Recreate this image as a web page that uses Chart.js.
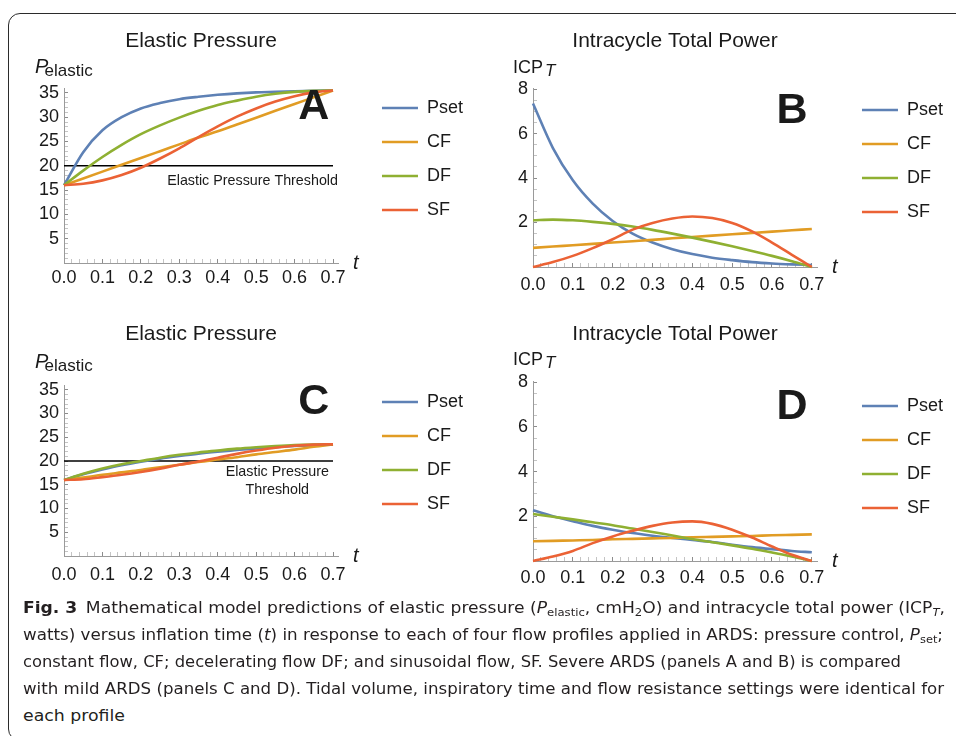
<!DOCTYPE html>
<html>
<head>
<meta charset="utf-8">
<script src="https://cdn.jsdelivr.net/npm/chart.js@4.4.1/dist/chart.umd.min.js"></script>
<style>
  body { margin: 0; width: 956px; height: 736px; background: #fff; position: relative; overflow: hidden; }
  .frame { position: absolute; left: 8px; top: 13px; width: 1000px; height: 726px; border: 1px solid #2b2b2b; border-radius: 12px; }
  .panel { position: absolute; }
  #caption { position: absolute; left: 23px; top: 594px; font-family: "Liberation Sans Narrow", "DejaVu Sans Condensed", "Liberation Sans", sans-serif; font-size: 16.5px; color: #231f20; }
  #caption .row { position: absolute; left: 0; height: 27px; line-height: 27px; white-space: nowrap; }
  #caption .row span.fit { display: inline-block; transform-origin: 0 50%; }
  #caption sub { font-size: 68%; line-height: 0; vertical-align: -0.3em; }
</style>
</head>
<body>
<div class="frame"></div>
<canvas id="chartA" class="panel" width="473" height="278" style="left:0px;top:20px"></canvas>
<canvas id="chartB" class="panel" width="473" height="278" style="left:480px;top:22px"></canvas>
<canvas id="chartC" class="panel" width="473" height="278" style="left:0px;top:314px"></canvas>
<canvas id="chartD" class="panel" width="473" height="278" style="left:480px;top:318px"></canvas>

<div id="caption">
  <div class="row" style="top:0px"><span class="fit" data-w="922"><b>Fig. 3</b>&ensp;Mathematical model predictions of elastic pressure (<i>P</i><sub>elastic</sub>, cmH<sub>2</sub>O) and intracycle total power (ICP<sub><i>T</i></sub>,</span></div>
  <div class="row" style="top:27px"><span class="fit" data-w="920">watts) versus inflation time (<i>t</i>) in response to each of four flow profiles applied in ARDS: pressure control, <i>P</i><sub>set</sub>;</span></div>
  <div class="row" style="top:54px"><span class="fit" data-w="878">constant flow, CF; decelerating flow DF; and sinusoidal flow, SF. Severe ARDS (panels A and B) is compared</span></div>
  <div class="row" style="top:81px"><span class="fit" data-w="921">with mild ARDS (panels C and D). Tidal volume, inspiratory time and flow resistance settings were identical for</span></div>
  <div class="row" style="top:108px"><span class="fit" data-w="102">each profile</span></div>
</div>

<script>
// inflation time t (s), shared by every curve
const tGrid = [0, 0.05, 0.1, 0.15, 0.2, 0.25, 0.3, 0.35, 0.4, 0.45, 0.5, 0.55, 0.6, 0.65, 0.7];

const seriesNames = ['Pset', 'CF', 'DF', 'SF'];
const seriesColors = ['#5e81b5', '#e19c24', '#8fb032', '#eb6235'];

// A - severe ARDS, elastic pressure
const psetA = [16, 22.8, 27.3, 30.0, 31.8, 32.9, 33.7, 34.2, 34.6, 34.9, 35.1, 35.2, 35.3, 35.4, 35.5];
const cfA   = [16, 17.4, 18.8, 20.2, 21.6, 23.0, 24.4, 25.8, 27.1, 28.5, 29.9, 31.3, 32.7, 34.1, 35.5];
const dfA   = [16, 19.0, 21.8, 24.3, 26.5, 28.3, 29.9, 31.3, 32.5, 33.4, 34.2, 34.8, 35.2, 35.4, 35.5];
const sfA   = [16, 16.3, 17.0, 18.1, 19.6, 21.5, 23.6, 25.9, 28.1, 30.1, 31.8, 33.2, 34.3, 35.1, 35.5];

// B - severe ARDS, intracycle total power
const psetB = [7.35, 5.35, 3.9, 2.85, 2.07, 1.5, 1.1, 0.8, 0.58, 0.42, 0.31, 0.22, 0.16, 0.12, 0.09];
const cfB   = [0.86, 0.92, 0.98, 1.04, 1.10, 1.16, 1.22, 1.29, 1.35, 1.41, 1.47, 1.53, 1.59, 1.65, 1.71];
const dfB   = [2.1, 2.13, 2.1, 2.03, 1.94, 1.82, 1.67, 1.5, 1.32, 1.13, 0.93, 0.72, 0.5, 0.26, 0];
const sfB   = [0, 0.22, 0.5, 0.85, 1.25, 1.68, 1.98, 2.18, 2.27, 2.2, 1.98, 1.6, 1.1, 0.55, 0];

// C - mild ARDS, elastic pressure
const psetC = [16, 17.2, 18.2, 19.1, 19.85, 20.5, 21.05, 21.55, 21.95, 22.3, 22.65, 22.9, 23.15, 23.35, 23.5];
const cfC   = [16, 16.5, 17.1, 17.6, 18.1, 18.7, 19.2, 19.8, 20.3, 20.8, 21.4, 21.9, 22.4, 23.0, 23.5];
const dfC   = [16, 17.3, 18.4, 19.3, 20.0, 20.7, 21.3, 21.8, 22.2, 22.6, 22.9, 23.15, 23.35, 23.45, 23.5];
const sfC   = [16, 16.15, 16.6, 17.1, 17.7, 18.4, 19.2, 19.9, 20.7, 21.5, 22.2, 22.8, 23.2, 23.45, 23.5];

// D - mild ARDS, intracycle total power
const psetD = [2.27, 2.0, 1.78, 1.57, 1.4, 1.25, 1.13, 1.03, 0.94, 0.85, 0.73, 0.62, 0.53, 0.45, 0.39];
const cfD   = [0.88, 0.9, 0.92, 0.94, 0.97, 0.99, 1.01, 1.03, 1.06, 1.08, 1.1, 1.12, 1.15, 1.17, 1.19];
const dfD   = [2.1, 1.98, 1.86, 1.73, 1.6, 1.45, 1.3, 1.14, 0.98, 0.84, 0.7, 0.55, 0.38, 0.2, 0];
const sfD   = [0, 0.2, 0.45, 0.8, 1.1, 1.35, 1.57, 1.72, 1.77, 1.66, 1.4, 1.05, 0.65, 0.28, 0];

// elastic pressure threshold
const thresholdT = [0, 0.7];
const thresholdP = [20, 20];
const thresholdTextA = ['Elastic Pressure Threshold'];
const thresholdTextC = ['Elastic Pressure', 'Threshold'];

// ticks
const xTickValues = [0, 0.1, 0.2, 0.3, 0.4, 0.5, 0.6, 0.7];
const xTickLabels = ['0.0', '0.1', '0.2', '0.3', '0.4', '0.5', '0.6', '0.7'];
const pTickValues = [5, 10, 15, 20, 25, 30, 35];
const pTickLabels = ['5', '10', '15', '20', '25', '30', '35'];
const icpTickValues = [2, 4, 6, 8];
const icpTickLabels = ['2', '4', '6', '8'];

const FONT = '"Liberation Sans", Arial, sans-serif';
const INK = '#1a1a1a';
const W = 473;

Chart.defaults.font.family = FONT;
Chart.defaults.color = INK;

function makeTicks(lo, hi, step, majors) {
  const out = [];
  const n = Math.round((hi - lo) / step);
  for (let i = 0; i <= n; i++) {
    const v = +(lo + i * step).toFixed(4);
    out.push({ value: v, major: majors.some(m => Math.abs(m - v) < 1e-6) });
  }
  return out;
}

function labelFor(values, labels) {
  return v => {
    const k = values.findIndex(m => Math.abs(m - v) < 1e-6);
    return k < 0 ? '' : labels[k];
  };
}

// draws axis names, panel letter and threshold note
const panelText = {
  id: 'panelText',
  afterDraw(chart, args, o) {
    const { ctx, chartArea: a, scales: { x, y } } = chart;
    ctx.save();
    ctx.fillStyle = INK;
    ctx.textAlign = 'left';
    ctx.textBaseline = 'alphabetic';
    const by = a.top + o.ylabDy;
    if (o.ylab === 'P') {
      ctx.font = 'italic 20px ' + FONT;
      ctx.fillText('P', a.left - 29, by);
      ctx.font = '17px ' + FONT;
      ctx.fillText('elastic', a.left - 19.5, by + 2.5);
    } else {
      ctx.font = '18px ' + FONT;
      ctx.fillText('ICP', a.left - 20, by);
      ctx.font = 'italic 17px ' + FONT;
      ctx.fillText('T', a.left + 12, by + 2.5);
    }
    ctx.font = 'italic 20px ' + FONT;
    ctx.fillText('t', a.right + 15, a.bottom + 6);

    ctx.font = 'bold 43px ' + FONT;
    ctx.textAlign = 'center';
    ctx.textBaseline = 'middle';
    ctx.fillText(o.letter, x.getPixelForValue(0.65), y.getPixelForValue(o.letterY));

    if (o.note) {
      ctx.font = '14.3px ' + FONT;
      const y20 = y.getPixelForValue(thresholdP[0]);
      if (o.note.length === 1) {
        ctx.textAlign = 'right';
        ctx.fillText(o.note[0], a.right, y20 + 15);
      } else {
        ctx.textAlign = 'center';
        const cx = x.getPixelForValue(0.555);
        o.note.forEach((line, i) => ctx.fillText(line, cx, y20 + 11.5 + i * 18));
      }
    }
    ctx.restore();
  }
};

const panels = [
  { id: 'chartA', title: 'Elastic Pressure', series: [psetA, cfA, dfA, sfA], threshold: true, note: thresholdTextA,
    yMax: 36, yStep: 1, yTop: 35, yVals: pTickValues, yLabs: pTickLabels, ylab: 'P', letter: 'A', letterY: 32.0,
    yWidth: 64, xHeight: 35, plotRight: 338, titlePad: { top: 8.4, bottom: 34.4 }, xPad: 8.7, ylabDy: -14.7 },
  { id: 'chartB', title: 'Intracycle Total Power', series: [psetB, cfB, dfB, sfB], threshold: false, note: null,
    yMax: 8.05, yStep: 0.5, yTop: 8, yVals: icpTickValues, yLabs: icpTickLabels, ylab: 'ICP', letter: 'B', letterY: 7.0,
    yWidth: 53, xHeight: 33, plotRight: 337, titlePad: { top: 6.4, bottom: 34.4 }, xPad: 11.5, ylabDy: -14.7 },
  { id: 'chartC', title: 'Elastic Pressure', series: [psetC, cfC, dfC, sfC], threshold: true, note: thresholdTextC,
    yMax: 36, yStep: 1, yTop: 35, yVals: pTickValues, yLabs: pTickLabels, ylab: 'P', letter: 'C', letterY: 32.3,
    yWidth: 64, xHeight: 36, plotRight: 338, titlePad: { top: 7.6, bottom: 38.2 }, xPad: 12.5, ylabDy: -17 },
  { id: 'chartD', title: 'Intracycle Total Power', series: [psetD, cfD, dfD, sfD], threshold: false, note: null,
    yMax: 8.05, yStep: 0.5, yTop: 8, yVals: icpTickValues, yLabs: icpTickLabels, ylab: 'ICP', letter: 'D', letterY: 6.87,
    yWidth: 53, xHeight: 35, plotRight: 337, titlePad: { top: 3.4, bottom: 34.4 }, xPad: 10.2, ylabDy: -16 }
];

const tickColor = c => (c.tick && c.tick.major ? '#8c8c8c' : '#c4c4c4');

panels.forEach(p => {
  const datasets = p.series.map((vals, i) => ({
    label: seriesNames[i],
    data: tGrid.map((t, k) => ({ x: t, y: vals[k] })),
    borderColor: seriesColors[i],
    backgroundColor: seriesColors[i],
    borderWidth: 2.6,
    pointRadius: 0,
    tension: 0.4,
    cubicInterpolationMode: 'monotone',
    fill: false,
    clip: false,
    order: 4 - i
  }));
  if (p.threshold) {
    datasets.push({
      label: 'threshold',
      data: thresholdT.map((t, k) => ({ x: t, y: thresholdP[k] })),
      borderColor: '#000',
      backgroundColor: '#000',
      borderWidth: 1.6,
      pointRadius: 0,
      fill: false,
      order: 10
    });
  }

  new Chart(document.getElementById(p.id), {
    type: 'line',
    data: { datasets },
    plugins: [panelText],
    options: {
      responsive: false,
      animation: false,
      devicePixelRatio: 1,
      layout: { padding: 0 },
      events: [],
      scales: {
        x: {
          type: 'linear', position: 'bottom', min: 0, max: 0.713,
          afterBuildTicks: s => { s.ticks = makeTicks(0, 0.7, 0.02, xTickValues); },
          afterFit: s => { s.height = p.xHeight; },
          ticks: { autoSkip: false, maxRotation: 0, minRotation: 0, padding: p.xPad, color: INK,
                   font: { size: 18 }, callback: labelFor(xTickValues, xTickLabels) },
          grid: { display: true, drawOnChartArea: false, drawTicks: true, tickLength: -4, tickColor, tickWidth: 1 },
          border: { display: true, color: '#9a9a9a', width: 1 }
        },
        y: {
          type: 'linear', position: 'left', min: 0, max: p.yMax,
          afterBuildTicks: s => { s.ticks = makeTicks(0, p.yTop, p.yStep, p.yVals); },
          afterFit: s => { s.width = p.yWidth; },
          ticks: { autoSkip: false, padding: 9, color: INK, font: { size: 18 },
                   callback: labelFor(p.yVals, p.yLabs) },
          grid: { display: true, drawOnChartArea: false, drawTicks: true, tickLength: -4, tickColor, tickWidth: 1 },
          border: { display: true, color: '#9a9a9a', width: 1 }
        },
        gap: {
          type: 'linear', axis: 'y', position: 'right', display: true,
          ticks: { display: false }, grid: { display: false, drawTicks: false }, border: { display: false },
          afterFit: s => { s.width = Math.max(0, W - p.plotRight - s.chart.legend.width); }
        }
      },
      plugins: {
        title: {
          display: true, text: p.title, fullSize: false, align: 'center', color: INK,
          font: { size: 21, weight: 'normal' }, padding: p.titlePad
        },
        legend: {
          position: 'right', align: 'center', maxWidth: 160,
          labels: {
            usePointStyle: true, pointStyle: 'line', pointStyleWidth: 36, padding: 16,
            color: INK, font: { size: 18 },
            filter: item => item.datasetIndex < 4,
            sort: (a, b) => a.datasetIndex - b.datasetIndex
          }
        },
        tooltip: { enabled: false },
        panelText: { ylab: p.ylab, ylabDy: p.ylabDy, letter: p.letter, letterY: p.letterY, note: p.note }
      }
    }
  });
});

// squeeze each caption line to the width it has in the figure
document.querySelectorAll('#caption span.fit').forEach(el => {
  const w = el.getBoundingClientRect().width;
  el.style.transform = 'scaleX(' + (+el.dataset.w / w) + ')';
});
</script>
</body>
</html>
